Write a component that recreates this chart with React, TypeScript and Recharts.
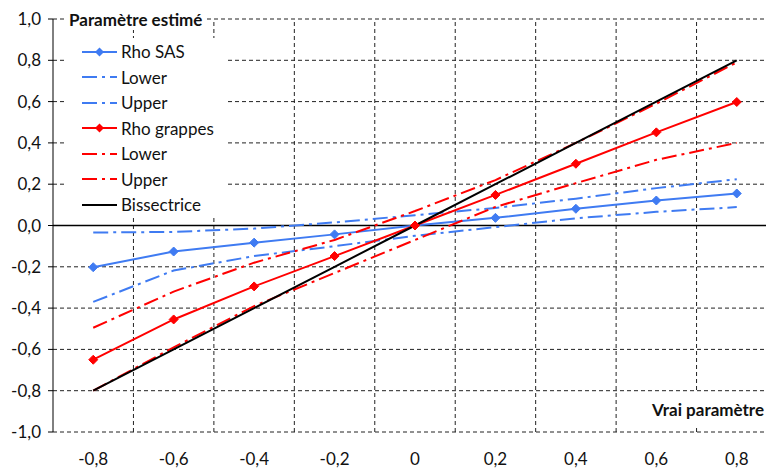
import React from "react";
import {
  LineChart,
  Line,
  XAxis,
  YAxis,
  CartesianGrid,
  ReferenceLine,
  Legend,
} from "recharts";

// true parameter values (x axis categories)
const xValues = [-0.8, -0.6, -0.4, -0.2, 0, 0.2, 0.4, 0.6, 0.8];
const xGridLines = [-0.7, -0.5, -0.3, -0.1, 0.1, 0.3, 0.5, 0.7];
const yTicks = [-1, -0.8, -0.6, -0.4, -0.2, 0, 0.2, 0.4, 0.6, 0.8, 1];

// estimated values
const rhoSas = [-0.202, -0.126, -0.083, -0.043, 0, 0.037, 0.081, 0.121, 0.155];
const sasLower = [-0.37, -0.218, -0.148, -0.1, -0.05, -0.008, 0.035, 0.066, 0.089];
const sasUpper = [-0.034, -0.031, -0.015, 0.015, 0.05, 0.085, 0.13, 0.181, 0.224];
const rhoGrappes = [-0.65, -0.455, -0.295, -0.148, 0, 0.148, 0.299, 0.451, 0.598];
const grappesLower = [-0.8, -0.59, -0.39, -0.23, -0.07, 0.09, 0.205, 0.318, 0.4];
const grappesUpper = [-0.495, -0.32, -0.18, -0.07, 0.07, 0.22, 0.4, 0.59, 0.79];
const bissectrice = [-0.8, -0.6, -0.4, -0.2, 0, 0.2, 0.4, 0.6, 0.8];

const data = xValues.map((x, i) => ({
  x,
  rhoSas: rhoSas[i],
  sasLower: sasLower[i],
  sasUpper: sasUpper[i],
  rhoGrappes: rhoGrappes[i],
  grappesLower: grappesLower[i],
  grappesUpper: grappesUpper[i],
  bissectrice: bissectrice[i],
}));

const BLUE = "#3f7bf2";
const RED = "#ff0000";
const DASH_DOT = "15 5 3 5";
const FONT = "Lato, 'Open Sans', sans-serif";
const FS = 17;

const series = [
  { key: "rhoSas", name: "Rho SAS", color: BLUE, dash: undefined, marker: true },
  { key: "sasLower", name: "Lower", color: BLUE, dash: DASH_DOT, marker: false },
  { key: "sasUpper", name: "Upper", color: BLUE, dash: DASH_DOT, marker: false },
  { key: "rhoGrappes", name: "Rho grappes", color: RED, dash: undefined, marker: true },
  { key: "grappesLower", name: "Lower", color: RED, dash: DASH_DOT, marker: false },
  { key: "grappesUpper", name: "Upper", color: RED, dash: DASH_DOT, marker: false },
  { key: "bissectrice", name: "Bissectrice", color: "#000000", dash: undefined, marker: false },
];

const diamond = (color: string) => (props: any) => {
  const { cx, cy, index } = props;
  if (cx == null || cy == null) return <g key={`e-${index}`} />;
  const r = 4.5;
  return (
    <path
      key={`d-${index}`}
      d={`M${cx},${cy - r} L${cx + r},${cy} L${cx},${cy + r} L${cx - r},${cy} Z`}
      fill={color}
      stroke={color}
    />
  );
};

const fmtY = (v: number) => v.toFixed(1).replace(".", ",");
const fmtX = (v: number) => (Math.abs(v) < 1e-9 ? "0" : v.toFixed(1).replace(".", ","));

// legend drawn as a white box in the upper left of the plot
const LegendBox = () => (
  <div style={{ paddingTop: 1 }}>
    {series.map((s) => (
      <div
        key={s.key}
        style={{ display: "flex", alignItems: "center", height: 25.5 }}
      >
        <svg width={57} height={14} style={{ flexShrink: 0 }}>
          <line
            x1={18}
            x2={53}
            y1={7}
            y2={7}
            stroke={s.color}
            strokeWidth={2}
            strokeDasharray={s.dash}
          />
          {s.marker && (
            <path d="M35.5,2.5 L40,7 L35.5,11.5 L31,7 Z" fill={s.color} />
          )}
        </svg>
        <span style={{ fontSize: FS, color: "#111", fontFamily: FONT }}>{s.name}</span>
      </div>
    ))}
  </div>
);

export default function App() {
  return (
    <div
      style={{
        position: "fixed",
        left: 0,
        top: 0,
        width: 766,
        height: 468,
        overflow: "hidden",
        background: "#fff",
        fontFamily: FONT,
      }}
    >
      <LineChart
        width={790}
        height={468}
        data={data}
        margin={{ top: 19, right: 13, bottom: 0, left: 0 }}
      >
        <CartesianGrid
          vertical={false}
          stroke="#222"
          strokeDasharray="4 3"
        />
        {xGridLines.map((gx) => (
          <ReferenceLine
            key={gx}
            x={gx}
            stroke="#222"
            strokeDasharray="4 3"
          />
        ))}
        <XAxis
          dataKey="x"
          type="number"
          domain={[-0.9, 0.9]}
          ticks={xValues}
          tickFormatter={fmtX}
          axisLine={false}
          tickLine={false}
          tickSize={6}
          tickMargin={15}
          height={36}
          tick={{ fontSize: FS, fill: "#111" }}
        />
        <YAxis
          type="number"
          domain={[-1, 1]}
          ticks={yTicks}
          tickFormatter={fmtY}
          width={53}
          axisLine={{ stroke: "#000" }}
          tickLine={{ stroke: "#000" }}
          tickSize={5}
          tickMargin={7}
          tick={{ fontSize: FS, fill: "#111" }}
        />
        <ReferenceLine y={0} stroke="#000" strokeWidth={1.3} />
        {series.map((s) => (
          <Line
            key={s.key}
            type="linear"
            dataKey={s.key}
            name={s.name}
            stroke={s.color}
            strokeWidth={2}
            strokeDasharray={s.dash}
            dot={s.marker ? diamond(s.color) : false}
            activeDot={false}
            isAnimationActive={false}
          />
        ))}
        <Legend
          layout="vertical"
          align="center"
          verticalAlign="middle"
          content={() => <LegendBox />}
          wrapperStyle={{
            left: 64,
            top: 38,
            width: 161,
            height: 177,
            background: "#fff",
          }}
        />
      </LineChart>
      <div
        style={{
          position: "absolute",
          left: 66,
          top: 9,
          height: 21,
          lineHeight: "21px",
          padding: "0 3px",
          background: "#fff",
          fontWeight: 700,
          fontSize: FS,
          color: "#111",
        }}
      >
        Paramètre estimé
      </div>
      <div
        style={{
          position: "absolute",
          right: 2,
          top: 393,
          height: 33,
          lineHeight: "33px",
          paddingLeft: 8,
          background: "#fff",
          fontWeight: 700,
          fontSize: FS,
          color: "#111",
        }}
      >
        Vrai paramètre
      </div>
    </div>
  );
}
